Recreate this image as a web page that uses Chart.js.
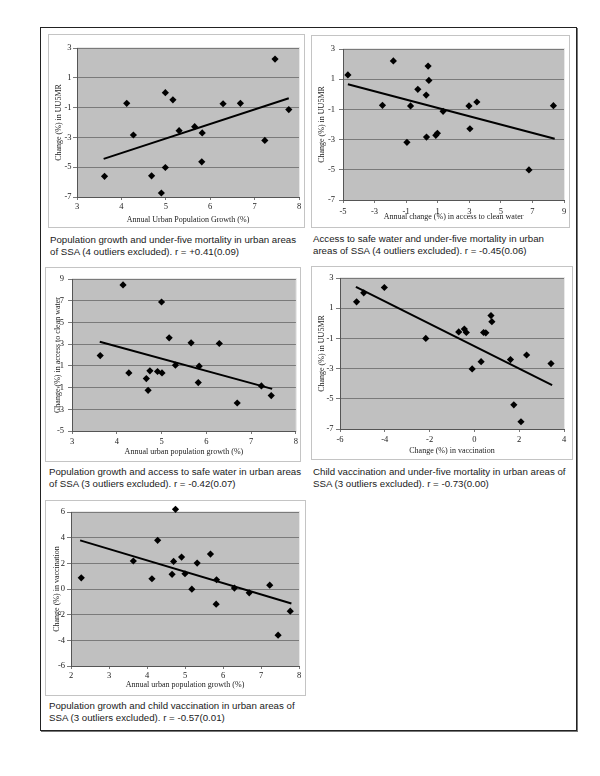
<!DOCTYPE html>
<html>
<head>
<meta charset="utf-8">
<script src="https://cdn.jsdelivr.net/npm/chart.js@4.4.1/dist/chart.umd.min.js"></script>
<style>
  body { margin: 0; background: #fff; width: 600px; height: 776px; position: relative; font-family: "Liberation Sans", Arial, sans-serif; }
  #outer { position: absolute; left: 40px; top: 27px; width: 535px; height: 702px; border: 1px solid #222; box-shadow: 1px 1px 0 #777; }
  .frame { position: absolute; border: 1px solid #c4c4c4; box-sizing: border-box; }
  canvas { position: absolute; }
  .cap { position: absolute; font-size: 9.7px; line-height: 12px; color: #1a1a1a; white-space: nowrap; }
</style>
</head>
<body>
<div id="outer"></div>

<div class="frame" style="left:48px;top:34px;width:257px;height:194px"></div>
<canvas id="c1" width="257" height="194" style="left:48px;top:34px"></canvas>
<div class="cap" style="left:50px;top:234px">Population growth and under-five mortality in urban areas<br>of SSA (4 outliers excluded). r = +0.41(0.09)</div>

<div class="frame" style="left:311px;top:35px;width:259px;height:193px"></div>
<canvas id="c2" width="259" height="193" style="left:311px;top:35px"></canvas>
<div class="cap" style="left:313px;top:233px">Access to safe water and under-five mortality in urban<br>areas of SSA (4 outliers excluded). r = -0.45(0.06)</div>

<div class="frame" style="left:45px;top:267px;width:256px;height:195px"></div>
<canvas id="c3" width="256" height="195" style="left:45px;top:267px"></canvas>
<div class="cap" style="left:49px;top:466px">Population growth and access to safe water in urban areas<br>of SSA (3 outliers excluded). r = -0.42(0.07)</div>

<div class="frame" style="left:311px;top:266px;width:262px;height:194px"></div>
<canvas id="c4" width="262" height="194" style="left:311px;top:266px"></canvas>
<div class="cap" style="left:313px;top:466px">Child vaccination and under-five mortality in urban areas of<br>SSA (3 outliers excluded). r = -0.73(0.00)</div>

<div class="frame" style="left:45px;top:500px;width:261px;height:196px"></div>
<canvas id="c5" width="261" height="196" style="left:45px;top:500px"></canvas>
<div class="cap" style="left:49px;top:700px">Population growth and child vaccination in urban areas of<br>SSA (3 outliers excluded). r = -0.57(0.01)</div>

<script>
// panel 1: urban population growth vs change in U5MR
const growth1 = [3.62, 4.12, 4.27, 4.68, 4.90, 4.99, 4.99, 5.16, 5.30, 5.65, 5.82, 5.81, 6.29, 6.68, 7.23, 7.46, 7.77];
const u5mr1 = [-5.61, -0.71, -2.84, -5.58, -6.73, 0.0, -5.02, -0.48, -2.55, -2.28, -2.70, -4.64, -0.74, -0.71, -3.20, 2.26, -1.13];
const trendX1 = [3.60, 7.77];
const trendY1 = [-4.44, -0.37];
const xTicks1 = [3, 4, 5, 6, 7, 8];
const yTicks1 = [3, 1, -1, -3, -5, -7];

// panel 2: change in access to clean water vs change in U5MR
const water2 = [-4.69, -1.81, -2.50, -0.72, -0.95, -0.26, 0.27, 0.39, 0.44, 0.29, 0.88, 0.98, 1.34, 2.98, 3.04, 3.48, 6.78, 8.33];
const u5mr2 = [1.28, 2.21, -0.73, -0.77, -3.18, 0.33, -0.05, 1.87, 0.92, -2.83, -2.72, -2.58, -1.13, -0.77, -2.28, -0.51, -5.01, -0.75];
const trendX2 = [-4.69, 8.41];
const trendY2 = [0.66, -2.94];
const xTicks2 = [-5, -3, -1, 1, 3, 5, 7, 9];
const yTicks2 = [3, 1, -1, -3, -5, -7];

// panel 3: urban population growth vs change in access to clean water
const growth3 = [3.63, 4.14, 4.27, 4.66, 4.70, 4.74, 4.91, 5.01, 5.00, 5.17, 5.31, 5.66, 5.84, 5.82, 6.29, 6.69, 7.23, 7.45];
const water3 = [1.95, 8.45, 0.35, -0.17, -1.25, 0.54, 0.48, 0.35, 6.88, 3.58, 1.06, 3.12, 0.97, -0.54, 3.06, -2.42, -0.85, -1.74];
const trendX3 = [3.62, 7.47];
const trendY3 = [3.22, -1.12];
const xTicks3 = [3, 4, 5, 6, 7, 8];
const yTicks3 = [9, 7, 5, 3, 1, -1, -3, -5];

// panel 4: change in vaccination vs change in U5MR
const vacc4 = [-5.26, -4.94, -4.02, -2.17, -0.70, -0.45, -0.36, -0.10, 0.30, 0.41, 0.51, 0.74, 0.78, 1.61, 1.76, 2.08, 2.33, 3.42];
const u5mr4 = [1.42, 2.02, 2.37, -1.00, -0.57, -0.38, -0.61, -3.02, -2.54, -0.61, -0.63, 0.51, 0.11, -2.40, -5.40, -6.52, -2.10, -2.67];
const trendX4 = [-5.29, 3.47];
const trendY4 = [2.41, -4.09];
const xTicks4 = [-6, -4, -2, 0, 2, 4];
const yTicks4 = [3, 1, -1, -3, -5, -7];

// panel 5: urban population growth vs change in vaccination
const growth5 = [2.27, 3.64, 4.13, 4.28, 4.66, 4.70, 4.75, 4.91, 5.00, 5.18, 5.32, 5.67, 5.83, 5.82, 6.30, 6.69, 7.23, 7.45, 7.77];
const vacc5 = [0.87, 2.18, 0.80, 3.79, 1.14, 2.15, 6.21, 2.49, 1.19, -0.01, 2.02, 2.72, 0.72, -1.18, 0.07, -0.30, 0.30, -3.60, -1.73];
const trendX5 = [2.24, 7.80];
const trendY5 = [3.79, -1.13];
const xTicks5 = [2, 3, 4, 5, 6, 7, 8];
const yTicks5 = [6, 4, 2, 0, -2, -4, -6];

const plotBg = {
  id: 'plotBg',
  beforeDraw(chart) {
    const { ctx, chartArea: a } = chart;
    ctx.save();
    ctx.fillStyle = '#c0c0c0';
    ctx.fillRect(a.left, a.top, a.right - a.left, a.bottom - a.top);
    ctx.strokeStyle = '#e8e8e8';
    ctx.lineWidth = 1;
    ctx.strokeRect(a.left + 0.5, a.top - 0.5, a.right - a.left, a.bottom - a.top + 1);
    ctx.restore();
  }
};

const serif = '"Liberation Serif", "Times New Roman", serif';

function makeChart(id, p) {
  const pts = p.xs.map((x, i) => ({ x: x, y: p.ys[i] }));
  const trend = p.tx.map((x, i) => ({ x: x, y: p.ty[i] }));
  new Chart(document.getElementById(id).getContext('2d'), {
    type: 'scatter',
    data: {
      datasets: [{
        data: pts,
        pointStyle: 'rectRot',
        pointRadius: 3.6,
        backgroundColor: '#000',
        borderColor: '#000',
        borderWidth: 0,
        clip: false
      }, {
        data: trend,
        showLine: true,
        borderColor: '#000',
        borderWidth: 2,
        pointRadius: 0
      }]
    },
    options: {
      responsive: false,
      animation: false,
      events: [],
      layout: { padding: { top: p.top, right: p.right, left: 0, bottom: 0 } },
      plugins: { legend: { display: false }, tooltip: { enabled: false } },
      scales: {
        x: {
          type: 'linear',
          min: Math.min(...p.xTicks),
          max: Math.max(...p.xTicks),
          afterBuildTicks: s => { s.ticks = p.xTicks.map(v => ({ value: v })); },
          afterFit: s => { s.height = p.xh; },
          grid: { drawOnChartArea: false, tickLength: 3, color: '#777' },
          border: { color: '#555' },
          ticks: { font: { family: serif, size: 8.5 }, color: '#222', padding: p.xPad, maxRotation: 0, autoSkip: false },
          title: { display: true, text: p.xTitle, font: { family: serif, size: 8 }, color: '#222', padding: { top: 0, bottom: p.xTitlePad } }
        },
        y: {
          type: 'linear',
          min: Math.min(...p.yTicks),
          max: Math.max(...p.yTicks),
          afterBuildTicks: s => { s.ticks = p.yTicks.slice().reverse().map(v => ({ value: v })); },
          afterFit: s => { s.width = p.yw; },
          grid: { color: '#7a7a7a', tickLength: 4 },
          border: { color: '#555' },
          ticks: { font: { family: serif, size: 8.5 }, color: '#222', padding: p.yPad, autoSkip: false },
          title: { display: true, text: p.yTitle, font: { family: serif, size: 8 }, color: '#222', padding: { top: p.yTitlePad, bottom: 0 } }
        }
      }
    },
    plugins: [plotBg]
  });
}

makeChart('c1', {
  xs: growth1, ys: u5mr1, tx: trendX1, ty: trendY1, xTicks: xTicks1, yTicks: yTicks1,
  xTitle: 'Annual Urban Population Growth (%)', yTitle: 'Change (%) in UU5MR',
  top: 14, right: 6, yw: 29, xh: 31, xPad: 2, yPad: 1.5, xTitlePad: 3.5, yTitlePad: 6
});
makeChart('c2', {
  xs: water2, ys: u5mr2, tx: trendX2, ty: trendY2, xTicks: xTicks2, yTicks: yTicks2,
  xTitle: 'Annual change (%) in access to clean water', yTitle: 'Change (%) in UU5MR',
  top: 14, right: 6, yw: 32, xh: 28, xPad: 3.5, yPad: 4, xTitlePad: 6, yTitlePad: 6
});
makeChart('c3', {
  xs: growth3, ys: water3, tx: trendX3, ty: trendY3, xTicks: xTicks3, yTicks: yTicks3,
  xTitle: 'Annual urban population growth (%)', yTitle: 'Change (%) in access to clean water',
  top: 12, right: 3, yw: 27, xh: 31, xPad: 3, yPad: 4, xTitlePad: 5, yTitlePad: 8
});
makeChart('c4', {
  xs: vacc4, ys: u5mr4, tx: trendX4, ty: trendY4, xTicks: xTicks4, yTicks: yTicks4,
  xTitle: 'Change (%) in vaccination', yTitle: 'Change (%) in UU5MR',
  top: 12, right: 9, yw: 29, xh: 31, xPad: 3, yPad: 2.5, xTitlePad: 4, yTitlePad: 6
});
makeChart('c5', {
  xs: growth5, ys: vacc5, tx: trendX5, ty: trendY5, xTicks: xTicks5, yTicks: yTicks5,
  xTitle: 'Annual urban population growth (%)', yTitle: 'Change (%) in vaccination',
  top: 12, right: 7, yw: 26, xh: 30, xPad: 2, yPad: 2, xTitlePad: 6, yTitlePad: 7
});
</script>
</body>
</html>
